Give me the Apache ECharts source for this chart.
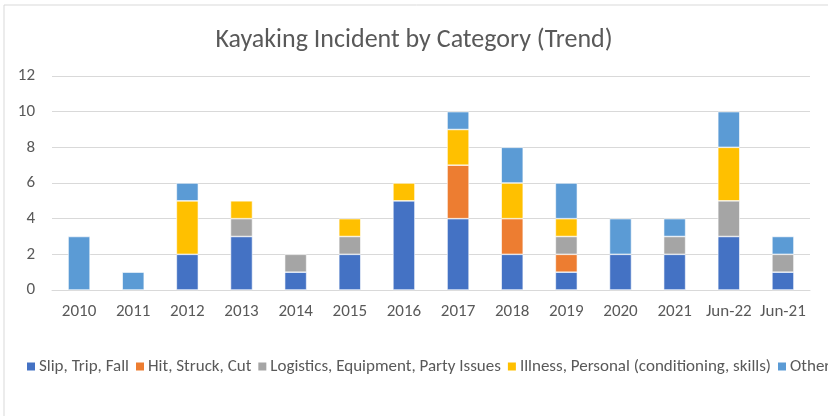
<!DOCTYPE html>
<html>
<head>
<meta charset="utf-8">
<script src="https://cdn.jsdelivr.net/npm/echarts@6/dist/echarts.min.js"></script>
<style>
  html, body { margin: 0; padding: 0; background: #fff; }
  #chart { width: 828px; height: 416px; }
</style>
</head>
<body>
<div id="chart"></div>
<script>
  // categories and stacked series
  const categories = ['2010', '2011', '2012', '2013', '2014', '2015', '2016', '2017', '2018', '2019', '2020', '2021', 'Jun-22', 'Jun-21'];
  const slipTripFall = [0, 0, 2, 3, 1, 2, 5, 4, 2, 1, 2, 2, 3, 1];
  const hitStruckCut = [0, 0, 0, 0, 0, 0, 0, 3, 2, 1, 0, 0, 0, 0];
  const logistics = [0, 0, 0, 1, 1, 1, 0, 0, 0, 1, 0, 1, 2, 1];
  const illness = [0, 0, 3, 1, 0, 1, 1, 2, 2, 1, 0, 0, 3, 0];
  const other = [3, 1, 1, 0, 0, 0, 0, 1, 2, 2, 2, 1, 2, 1];

  const seriesNames = [
    'Slip, Trip, Fall',
    'Hit, Struck, Cut',
    'Logistics, Equipment, Party Issues',
    'Illness, Personal (conditioning, skills)',
    'Other'
  ];
  const seriesData = [slipTripFall, hitStruckCut, logistics, illness, other];
  const colors = ['#4472C4', '#ED7D31', '#A5A5A5', '#FFC000', '#5B9BD5'];

  const font = "Carlito, 'Liberation Sans Narrow', 'Liberation Sans', sans-serif";

  const chart = echarts.init(document.getElementById('chart'));

  chart.setOption({
    animation: false,
    color: colors,
    textStyle: { fontFamily: font },
    title: {
      text: 'Kayaking Incident by Category (Trend)',
      left: 'center',
      top: 22,
      textStyle: { fontFamily: font, fontSize: 26, fontWeight: 'normal', color: '#595959' }
    },
    graphic: [{
      type: 'rect',
      shape: { x: 4, y: 5, width: 900, height: 500 },
      style: { fill: 'none', stroke: '#d9d9d9', lineWidth: 1 },
      silent: true
    }],
    legend: {
      left: 20,
      top: 353,
      width: 1200,
      itemWidth: 10,
      itemHeight: 10,
      itemGap: 5,
      icon: 'rect',
      textStyle: { fontFamily: font, fontSize: 17, color: '#595959', padding: [0, 0, 0, -2] },
      data: seriesNames
    },
    grid: { left: 52, right: 18, top: 76, bottom: 126 },
    xAxis: {
      type: 'category',
      data: categories,
      axisLine: { lineStyle: { color: '#d9d9d9' } },
      axisTick: { show: false },
      axisLabel: { color: '#595959', fontSize: 17, margin: 13, interval: 0, fontFamily: font }
    },
    yAxis: {
      type: 'value',
      min: 0,
      max: 12,
      interval: 2,
      axisLine: { show: false },
      axisTick: { show: false },
      splitLine: { lineStyle: { color: '#d9d9d9' } },
      axisLabel: { color: '#595959', fontSize: 17, margin: 17, fontFamily: font }
    },
    series: seriesNames.map((name, i) => ({
      name: name,
      type: 'bar',
      stack: 'total',
      barWidth: 22,
      data: seriesData[i].map(v => (v === 0 ? null : v)),
      itemStyle: { borderColor: '#ffffff', borderWidth: 0.6 }
    }))
  });
</script>
</body>
</html>
